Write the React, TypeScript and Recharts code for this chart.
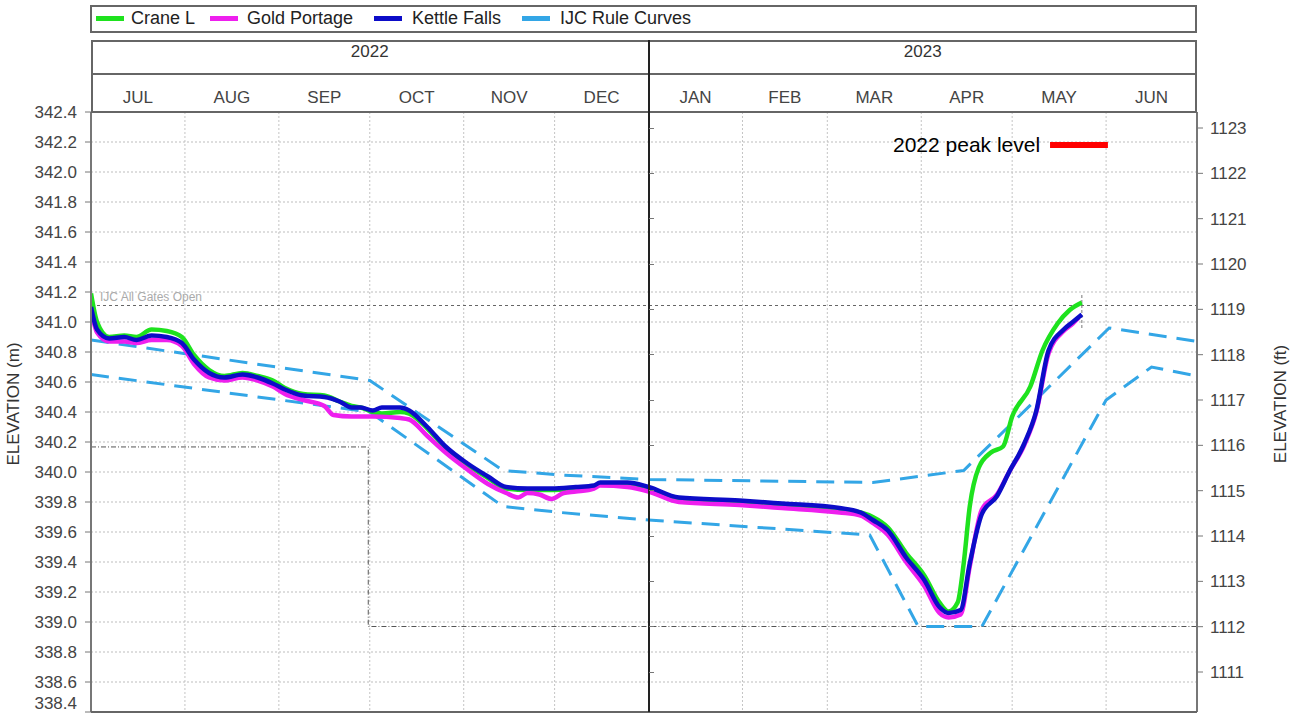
import React from 'react';
import { LineChart, Line, XAxis, YAxis, CartesianGrid, ReferenceLine } from 'recharts';

// ---- categories / ticks ----
const monthNames = ['JUL', 'AUG', 'SEP', 'OCT', 'NOV', 'DEC', 'JAN', 'FEB', 'MAR', 'APR', 'MAY', 'JUN'];
const monthStartDays = [0, 31, 62, 92, 123, 153, 184, 215, 243, 274, 304, 335, 365];
const yearLabels = ['2022', '2023'];
const elevTicksM = [338.4, 338.6, 338.8, 339.0, 339.2, 339.4, 339.6, 339.8, 340.0, 340.2, 340.4, 340.6, 340.8, 341.0, 341.2, 341.4, 341.6, 341.8, 342.0, 342.2, 342.4];
const elevTicksFt = [1111, 1112, 1113, 1114, 1115, 1116, 1117, 1118, 1119, 1120, 1121, 1122, 1123];
const ftDomain: [number, number] = [1110.118, 1123.353];

// ---- series: [day since 1 Jul 2022, elevation m] ----
const craneL: [number, number][] = [
  [0, 341.19], [2, 341.0], [6, 340.9], [11, 340.91], [15, 340.9], [20, 340.95], [25, 340.94], [30, 340.9],
  [34, 340.78], [39, 340.68], [44, 340.64], [50, 340.66], [55, 340.64], [60, 340.61], [64, 340.56], [70, 340.52],
  [77, 340.51], [82, 340.47], [86, 340.44], [89, 340.43], [93, 340.4], [96, 340.39], [102, 340.4], [105, 340.39],
  [111, 340.29], [117, 340.16], [124, 340.05], [131, 339.96], [137, 339.89], [144, 339.88], [152, 339.88],
  [160, 339.89], [166, 339.9], [168, 339.92], [177, 339.92], [184, 339.89], [194, 339.82], [214, 339.8],
  [228, 339.78], [247, 339.75], [254, 339.73], [258, 339.7], [263, 339.63], [269, 339.46], [275, 339.31],
  [280, 339.13], [283, 339.07], [286, 339.13], [288, 339.39], [290, 339.77], [293, 340.03], [297, 340.13],
  [301, 340.17], [304, 340.37], [310, 340.57], [314, 340.81], [319, 340.99], [323, 341.08], [327, 341.13],
];

const goldPortage: [number, number][] = [
  [0, 341.08], [2, 340.93], [6, 340.87], [11, 340.87], [15, 340.86], [20, 340.88], [25, 340.88], [30, 340.84],
  [34, 340.72], [39, 340.63], [44, 340.61], [50, 340.63], [55, 340.61], [60, 340.57], [64, 340.52], [70, 340.48],
  [77, 340.44], [80, 340.38], [86, 340.37], [93, 340.37], [102, 340.36], [105, 340.35], [111, 340.24],
  [117, 340.13], [124, 340.02], [131, 339.92], [137, 339.86], [141, 339.83], [144, 339.86], [148, 339.85],
  [152, 339.82], [156, 339.86], [160, 339.87], [166, 339.89], [168, 339.91], [177, 339.9], [184, 339.87],
  [194, 339.8], [214, 339.78], [228, 339.76], [247, 339.73], [254, 339.71], [258, 339.66], [263, 339.58],
  [269, 339.4], [275, 339.24], [280, 339.06], [283, 339.03], [287, 339.05], [290, 339.37], [294, 339.75],
  [299, 339.85], [303, 340.0], [308, 340.18], [312, 340.4], [316, 340.79], [321, 340.94], [324, 340.99], [326, 341.03],
];

const kettleFalls: [number, number][] = [
  [0, 341.1], [2, 340.95], [6, 340.89], [11, 340.9], [15, 340.88], [20, 340.91], [25, 340.9], [30, 340.86],
  [34, 340.75], [39, 340.66], [44, 340.63], [50, 340.65], [55, 340.63], [60, 340.59], [64, 340.55], [70, 340.51],
  [77, 340.5], [82, 340.47], [86, 340.43], [89, 340.43], [93, 340.41], [96, 340.43], [102, 340.43], [105, 340.41],
  [111, 340.3], [117, 340.17], [124, 340.06], [131, 339.97], [137, 339.9], [144, 339.89], [152, 339.89],
  [160, 339.9], [166, 339.91], [168, 339.93], [177, 339.93], [184, 339.9], [194, 339.83], [214, 339.81],
  [228, 339.79], [247, 339.76], [254, 339.73], [258, 339.68], [263, 339.61], [269, 339.43], [275, 339.28],
  [280, 339.1], [283, 339.06], [287, 339.08], [290, 339.39], [294, 339.72], [299, 339.84], [303, 340.0],
  [308, 340.19], [312, 340.41], [316, 340.81], [321, 340.95], [324, 341.0], [327, 341.05],
];

const ijcUpper: [number, number][] = [
  [0, 340.88], [92, 340.61], [136, 340.01], [155, 339.98], [184, 339.95], [258, 339.93], [288, 340.01],
  [336, 340.96], [365, 340.87],
];
const ijcLower: [number, number][] = [
  [0, 340.65], [92, 340.4], [136, 339.77], [155, 339.73], [184, 339.68], [257, 339.58], [273, 338.97],
  [294, 338.97], [335, 340.48], [350, 340.7], [365, 340.64],
];

// reference levels
const allGatesOpen = 341.11;
const stepLevels: [number, number][] = [[0, 340.167], [91.5, 340.167], [91.5, 338.97], [365, 338.97]];
const currentMarker: [number, number][] = [[327, 341.18], [327, 340.95]];
const peakLevel2022: [number, number][] = [[316.5, 342.18], [335.6, 342.18]];

const toPts = (a: [number, number][]) => a.map(([day, v]) => ({ day, v }));

const monthMidDays = monthNames.map((_, i) => (monthStartDays[i] + monthStartDays[i + 1]) / 2);

const FONT = '"Liberation Sans", Arial, Helvetica, sans-serif';

const W = 1292;
const H = 716;
const PL = 91;
const PR = 1197;
const PT = 112;
const PB = 712;
const xOfDay = (d: number) => PL + (d / 365) * (PR - PL);
const yOfFt = (f: number) => PT + ((ftDomain[1] - f) / (ftDomain[1] - ftDomain[0])) * (PB - PT);

const GREEN = '#1ee21e';
const MAGENTA = '#ee1fee';
const BLUE = '#0c0cc8';
const LIGHTBLUE = '#33a6e6';

const legendItems = [
  { name: 'Crane L', color: GREEN, sx: 96, tx: 131 },
  { name: 'Gold Portage', color: MAGENTA, sx: 210, tx: 247 },
  { name: 'Kettle Falls', color: BLUE, sx: 374, tx: 412 },
  { name: 'IJC Rule Curves', color: LIGHTBLUE, sx: 522, tx: 560 },
];

const MonthTick = (props: any) => {
  const { x, payload } = props;
  const idx = monthMidDays.indexOf(payload.value);
  return (
    <text x={x} y={103} textAnchor="middle" fill="#444" fontSize={17} fontFamily={FONT}>
      {monthNames[idx]}
    </text>
  );
};

const LeftTick = (props: any) => {
  const { x, y, payload } = props;
  const shift = payload.value <= 338.4 ? -9 : 0;
  return (
    <text x={x} y={y + shift} dy={6} textAnchor="end" fill="#444" fontSize={17} fontFamily={FONT}>
      {Number(payload.value).toFixed(1)}
    </text>
  );
};

export default function App() {
  return (
    <div style={{ position: 'absolute', left: 0, top: 0, width: W, height: H, background: '#fff', fontFamily: FONT }}>
      <LineChart width={W} height={H} margin={{ top: 74, right: 0, bottom: 4, left: 0 }}>
        <XAxis
          type="number"
          dataKey="day"
          orientation="top"
          domain={[0, 365]}
          allowDataOverflow
          ticks={monthMidDays}
          tick={<MonthTick />}
          axisLine={false}
          tickLine={false}
          height={38}
          interval={0}
        />
        <YAxis
          yAxisId="m"
          orientation="left"
          type="number"
          width={91}
          domain={[338.4, 342.4]}
          allowDataOverflow
          ticks={elevTicksM}
          interval={0}
          axisLine={{ stroke: '#777', strokeWidth: 2 }}
          tickLine={{ stroke: '#777' }}
          tickSize={6}
          tickMargin={8}
          tick={<LeftTick />}
        />
        <YAxis
          yAxisId="ft"
          orientation="right"
          type="number"
          width={95}
          domain={ftDomain}
          allowDataOverflow
          ticks={elevTicksFt}
          interval={0}
          axisLine={{ stroke: '#777', strokeWidth: 2 }}
          tickLine={{ stroke: '#777' }}
          tickSize={6}
          tickMargin={7}
          tick={{ fill: '#444', fontSize: 17, fontFamily: FONT }}
        />
        <CartesianGrid yAxisId="m" vertical={false} stroke="#bdbdbd" strokeDasharray="2 2" />
        {monthStartDays.slice(1, -1).filter((d) => d !== 184).map((d) => (
          <ReferenceLine key={d} yAxisId="m" x={d} stroke="#c4c4c4" strokeDasharray="2 2" />
        ))}
        <ReferenceLine yAxisId="m" y={allGatesOpen} stroke="#666" strokeDasharray="3 3" />
        <Line yAxisId="m" data={toPts(stepLevels)} dataKey="v" type="linear" stroke="#555" strokeWidth={1} strokeDasharray="5 2 1 2" dot={false} isAnimationActive={false} />
        <Line yAxisId="m" data={toPts(currentMarker)} dataKey="v" type="linear" stroke="#777" strokeWidth={1} strokeDasharray="3 2" dot={false} isAnimationActive={false} />
        <Line yAxisId="m" data={toPts(ijcUpper)} dataKey="v" type="linear" stroke={LIGHTBLUE} strokeWidth={3} strokeDasharray="18 10" dot={false} isAnimationActive={false} />
        <Line yAxisId="m" data={toPts(ijcLower)} dataKey="v" type="linear" stroke={LIGHTBLUE} strokeWidth={3} strokeDasharray="18 10" dot={false} isAnimationActive={false} />
        <Line yAxisId="m" data={toPts(craneL)} dataKey="v" type="monotone" stroke={GREEN} strokeWidth={4.5} dot={false} isAnimationActive={false} />
        <Line yAxisId="m" data={toPts(goldPortage)} dataKey="v" type="monotone" stroke={MAGENTA} strokeWidth={4.5} dot={false} isAnimationActive={false} />
        <Line yAxisId="m" data={toPts(kettleFalls)} dataKey="v" type="monotone" stroke={BLUE} strokeWidth={4.5} dot={false} isAnimationActive={false} />
        <Line yAxisId="m" data={toPts(peakLevel2022)} dataKey="v" type="linear" stroke="#ff0000" strokeWidth={6} strokeLinecap="butt" dot={false} isAnimationActive={false} />
      </LineChart>

      {/* Legend box */}
      <div style={{ position: 'absolute', left: 90, top: 5, width: PR - 90, height: 28, border: '2px solid #666', boxSizing: 'border-box', background: '#fff' }} />
      {legendItems.map((it) => (
        <React.Fragment key={it.name}>
          <div style={{ position: 'absolute', left: it.sx, top: 16, width: 28, height: 5, background: it.color }} />
          <div style={{ position: 'absolute', left: it.tx, top: 8, fontSize: 18, lineHeight: '21px', color: '#222', whiteSpace: 'nowrap' }}>{it.name}</div>
        </React.Fragment>
      ))}

      {/* Year / month header box */}
      <div style={{ position: 'absolute', left: PL, top: 40, width: PR - PL, height: PT - 40, border: '2px solid #666', borderBottom: 'none', boxSizing: 'border-box', pointerEvents: 'none' }} />
      <div style={{ position: 'absolute', left: PL, top: 73, width: PR - PL, height: 2, background: '#666' }} />
      <div style={{ position: 'absolute', left: PL, top: PT - 1, width: PR - PL, height: 2, background: '#666' }} />
      <div style={{ position: 'absolute', left: PL, top: PB - 1, width: PR - PL, height: 2, background: '#666' }} />
      <div style={{ position: 'absolute', left: xOfDay(184) - 0.5, top: 40, width: 1.5, height: PB - 40, background: '#222' }} />
      {elevTicksFt.map((f) => (
        <div key={f} style={{ position: 'absolute', left: xOfDay(184), top: yOfFt(f) - 0.5, width: 5, height: 1, background: '#777' }} />
      ))}
      {yearLabels.map((y, i) => {
        const a = i === 0 ? 0 : 184;
        const b = i === 0 ? 184 : 365;
        const cx = (xOfDay(a) + xOfDay(b)) / 2;
        return (
          <div key={y} style={{ position: 'absolute', left: cx - 40, width: 80, top: 41, textAlign: 'center', fontSize: 17, lineHeight: '22px', color: '#333' }}>{y}</div>
        );
      })}

      {/* annotations */}
      <div style={{ position: 'absolute', left: 100, top: 290, fontSize: 12, lineHeight: '14px', color: '#aaa', whiteSpace: 'nowrap' }}>IJC All Gates Open</div>
      <div style={{ position: 'absolute', left: 893, top: 132, fontSize: 21, lineHeight: '26px', color: '#000', whiteSpace: 'nowrap' }}>2022 peak level</div>

      {/* axis titles */}
      <div style={{ position: 'absolute', left: 14, top: 404, transform: 'translate(-50%, -50%) rotate(-90deg)', fontSize: 17, color: '#333', whiteSpace: 'nowrap' }}>ELEVATION (m)</div>
      <div style={{ position: 'absolute', left: 1281, top: 404, transform: 'translate(-50%, -50%) rotate(-90deg)', fontSize: 17, color: '#333', whiteSpace: 'nowrap' }}>ELEVATION (ft)</div>
    </div>
  );
}
